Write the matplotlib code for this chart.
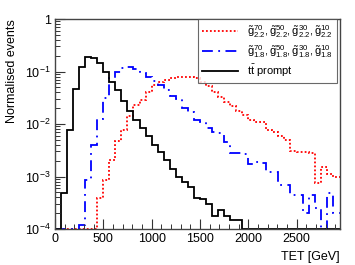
import numpy as np
import matplotlib
matplotlib.use("Agg")
import matplotlib.pyplot as plt
from matplotlib.lines import Line2D
from matplotlib.ticker import FixedLocator, FixedFormatter, MultipleLocator, LogLocator, NullFormatter

plt.rcParams['font.family'] = ['Liberation Sans', 'DejaVu Sans']
plt.rcParams['mathtext.fontset'] = 'custom'
plt.rcParams['mathtext.rm'] = 'Liberation Sans'
plt.rcParams['mathtext.it'] = 'Liberation Sans'
plt.rcParams['mathtext.bf'] = 'Liberation Sans:bold'

# Bin edges (GeV)
bin_width = 62.5
edges = np.arange(0, 3000 + bin_width / 2, bin_width)

# tt prompt
tt_prompt = [0, 4.9e-4, 7.7e-3, 0.046, 0.12, 0.19, 0.18, 0.147, 0.099, 0.064,
             0.044, 0.028, 0.018, 0.012, 0.0085, 0.006, 0.0039, 0.0029, 0.0021, 0.0014,
             0.001, 0.0008, 0.00064, 0.00039, 0.00037, 0.0003, 0.00018, 0.00023, 0.00018, 0.00015,
             0.00015, 0, 0, 0, 0, 0, 0, 0, 0, 0,
             0, 0, 0, 0, 0, 0, 0, 0]

# gluino 1.8 TeV
g18 = [0, 1.0e-4, 0, 0, 1.2e-4, 8.5e-4, 0.004, 0.0125, 0.031, 0.075,
       0.10, 0.118, 0.12, 0.11, 0.095, 0.08, 0.065, 0.055, 0.045, 0.034,
       0.030, 0.020, 0.017, 0.012, 0.011, 0.0085, 0.007, 0.0068, 0.0045, 0.0028,
       0.0028, 0.0027, 0.0017, 0.0019, 0.0018, 0.0012, 0.0012, 0.0007, 0.0007, 0.00044,
       0.00044, 0.0002, 0.00045, 0.00025, 0, 0.00048, 0.0002, 0.0002]

# gluino 2.2 TeV
g22 = [0, 0, 0, 0, 0, 0, 0, 3.9e-4, 8.5e-4, 0.0021,
       0.0048, 0.0077, 0.014, 0.023, 0.029, 0.040, 0.055, 0.064, 0.070, 0.074,
       0.078, 0.080, 0.078, 0.075, 0.064, 0.054, 0.040, 0.032, 0.026, 0.022,
       0.018, 0.015, 0.012, 0.011, 0.011, 0.0077, 0.0071, 0.0058, 0.0049, 0.0031,
       0.0029, 0.0029, 0.0028, 0.00074, 0.0015, 0.0011, 0.0010, 0.0010]

label22 = r'$\tilde{\mathrm{g}}^{70}_{2.2}, \tilde{\mathrm{g}}^{50}_{2.2}, \tilde{\mathrm{g}}^{30}_{2.2}, \tilde{\mathrm{g}}^{10}_{2.2}$'
label18 = r'$\tilde{\mathrm{g}}^{70}_{1.8}, \tilde{\mathrm{g}}^{50}_{1.8}, \tilde{\mathrm{g}}^{30}_{1.8}, \tilde{\mathrm{g}}^{10}_{1.8}$'
labeltt = r'$\mathrm{t\bar{t}}$ prompt'

ymin, ymax = 1e-4, 1.0
xmin, xmax = 0, 2950

fig = plt.figure(figsize=(3.55, 2.65), dpi=100)
ax = fig.add_axes([55/355, 1 - 229/265, 285/355, 210/265])

red_ls = (0, (1, 1.2))
blue_ls = (0, (6, 3, 1, 3))

def draw(vals, **kw):
    v = np.maximum(np.asarray(vals, dtype=float), ymin)
    ax.stairs(v, edges, baseline=ymin, fill=False, **kw)

draw(g22, color='#ff0000', linestyle=red_ls, linewidth=1.3)
draw(g18, color='#0000ff', linestyle=blue_ls, linewidth=1.3)
draw(tt_prompt, color='black', linestyle='-', linewidth=1.3)

ax.set_yscale('log')
ax.set_xlim(xmin, xmax)
ax.set_ylim(ymin, ymax)

ax.xaxis.set_major_locator(MultipleLocator(500))
ax.xaxis.set_minor_locator(MultipleLocator(100))
ax.yaxis.set_major_locator(FixedLocator([1e-4, 1e-3, 1e-2, 1e-1, 1]))
ax.yaxis.set_major_formatter(FixedFormatter([r'$10^{-4}$', r'$10^{-3}$', r'$10^{-2}$', r'$10^{-1}$', '1']))
ax.yaxis.set_minor_locator(LogLocator(base=10, subs=np.arange(2, 10)))
ax.yaxis.set_minor_formatter(NullFormatter())

ax.tick_params(which='both', direction='in', top=False, right=False, labelsize=9, color='#333333')
ax.tick_params(which='major', length=7, width=0.8)
ax.tick_params(which='minor', length=3.5, width=0.7)
ax.tick_params(axis='x', pad=3)
ax.tick_params(axis='y', pad=3)
for s in ax.spines.values():
    s.set_linewidth(1.0)
    s.set_color('#444444')

ax.set_ylabel('Normalised events', fontsize=9, loc='top')
ax.yaxis.set_label_coords(-0.13, 1.0)
ax.set_xlabel('TET [GeV]', fontsize=9, loc='right')
ax.xaxis.set_label_coords(1.0, -0.105)

handles = [Line2D([], [], color='#ff0000', linestyle=red_ls, linewidth=1.3),
           Line2D([], [], color='#0000ff', linestyle=blue_ls, linewidth=1.3),
           Line2D([], [], color='black', linewidth=1.3)]
leg = ax.legend(handles, [label22, label18, labeltt], loc='upper right',
                bbox_to_anchor=(0.988, 1.0), fontsize=8, frameon=True, fancybox=False,
                borderpad=0.35, handlelength=3.2, handletextpad=0.8, labelspacing=0.3,
                borderaxespad=0.0)
leg.get_frame().set_edgecolor('#444444')
leg.get_frame().set_linewidth(0.8)

fig.savefig('out.png', dpi=100)
